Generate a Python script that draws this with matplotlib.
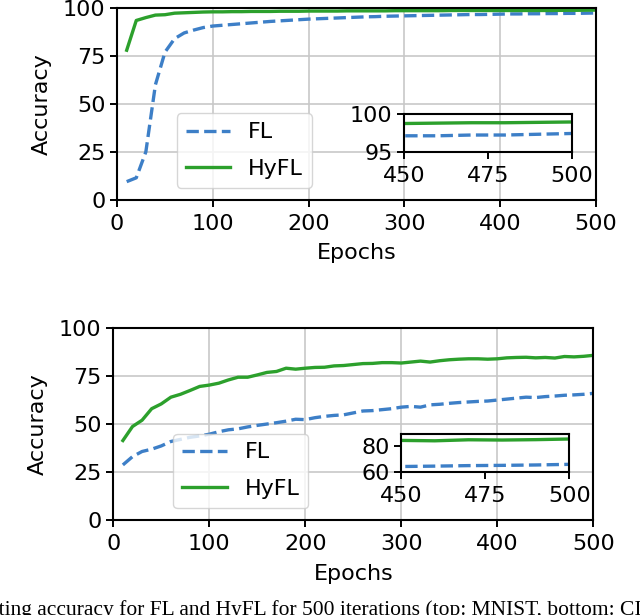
import matplotlib
matplotlib.use("Agg")
import matplotlib.pyplot as plt
import numpy as np

# Epochs (every 10)
epochs = list(range(10, 510, 10))

# top chart
fl_top = [9.5, 11.5, 25, 60, 77, 84, 87, 88.5, 89.8, 90.6,
          91.0, 91.4, 91.8, 92.2, 92.6, 93.0, 93.3, 93.6, 93.9, 94.2,
          94.4, 94.6, 94.8, 95.0, 95.2, 95.4, 95.5, 95.7, 95.8, 95.9,
          96.0, 96.1, 96.2, 96.3, 96.4, 96.5, 96.6, 96.6, 96.7, 96.8,
          96.9, 96.9, 97.0, 97.0, 97.1, 97.1, 97.2, 97.2, 97.3, 97.4]
hyfl_top = [78, 93.5, 95.0, 96.3, 96.5, 97.3, 97.5, 97.7, 97.9, 98.0,
            98.0, 98.1, 98.1, 98.2, 98.2, 98.2, 98.3, 98.3, 98.3, 98.4,
            98.4, 98.4, 98.4, 98.5, 98.5, 98.5, 98.5, 98.5, 98.6, 98.6,
            98.6, 98.6, 98.6, 98.6, 98.7, 98.7, 98.7, 98.7, 98.7, 98.7,
            98.7, 98.7, 98.7, 98.7, 98.7, 98.75, 98.8, 98.8, 98.85, 98.9]

# bottom chart
fl_bot = [28.7, 33.0, 35.7, 36.9, 38.6, 40.9, 42.0, 43.1, 43.8, 44.7,
          46.0, 47.0, 47.5, 48.5, 49.3, 50.0, 50.7, 51.5, 52.5, 52.3,
          53.3, 54.0, 54.5, 54.8, 55.8, 56.8, 57.0, 57.5, 58.0, 58.8,
          59.2, 58.8, 60.0, 60.3, 60.8, 61.2, 61.5, 61.8, 62.0, 62.5,
          63.0, 63.5, 64.0, 63.8, 64.3, 64.6, 65.0, 65.2, 65.5, 66.0]
hyfl_bot = [41.4, 48.7, 52.0, 58.0, 60.5, 64.0, 65.5, 67.5, 69.6, 70.3,
            71.3, 73.0, 74.4, 74.4, 75.6, 76.9, 77.4, 79.1, 78.6, 79.1,
            79.5, 79.6, 80.3, 80.5, 81.0, 81.5, 81.6, 82.0, 82.0, 81.8,
            82.3, 82.8, 82.3, 83.0, 83.5, 83.8, 84.0, 84.0, 83.8, 84.0,
            84.5, 84.7, 84.8, 84.5, 84.7, 84.4, 85.2, 85.0, 85.3, 85.8]

inset_ylims = [(95, 100), (60, 90)]
inset_yticks = [[95, 100], [60, 80]]

c_fl = '#3d7fc7'
c_hyfl = '#2ca02c'
fs = 16

fig = plt.figure(figsize=(6.4, 6.15), dpi=100)
ax_top = fig.add_axes([0.183, 0.675, 0.748, 0.312])
ax_bot = fig.add_axes([0.177, 0.1545, 0.750, 0.312])

panels = [(ax_top, fl_top, hyfl_top), (ax_bot, fl_bot, hyfl_bot)]
for i, (ax, fl, hyfl) in enumerate(panels):
    ax.plot(epochs, fl, '--', color=c_fl, lw=2.4, label='FL')
    ax.plot(epochs, hyfl, '-', color=c_hyfl, lw=2.4, label='HyFL')
    ax.set_xlim(0, 500)
    ax.set_ylim(0, 100)
    ax.set_xticks([0, 100, 200, 300, 400, 500])
    ax.set_yticks([0, 25, 50, 75, 100])
    ax.grid(True, color='#c8c8c8', lw=1.2)
    ax.set_axisbelow(True)
    ax.tick_params(labelsize=fs, width=1.4, length=5)
    ax.tick_params(axis='x', pad=5)
    for s in ax.spines.values():
        s.set_linewidth(1.5)
    ax.set_xlabel('Epochs', fontsize=fs, labelpad=7)
    ax.set_ylabel('Accuracy', fontsize=fs, labelpad=8)
    ax.legend(loc='lower left', bbox_to_anchor=(0.125, 0.0625), borderaxespad=0,
              fontsize=fs, handlelength=2.0, labelspacing=0.75)

    ins = ax.inset_axes([0.6, 0.25, 0.35, 0.2])
    ins.patch.set_alpha(0)
    ins.plot(epochs, fl, '--', color=c_fl, lw=2.4)
    ins.plot(epochs, hyfl, '-', color=c_hyfl, lw=2.4)
    ins.set_xlim(450, 500)
    ins.set_ylim(*inset_ylims[i])
    ins.set_xticks([450, 475, 500])
    ins.set_yticks(inset_yticks[i])
    ins.tick_params(labelsize=fs, width=1.4, length=5)
    ins.tick_params(axis='x', pad=5)
    for s in ins.spines.values():
        s.set_linewidth(1.5)

fig.text(-0.048, 0.0,
         'Testing accuracy for FL and HyFL for 500 iterations (top: MNIST, bottom: CIFAR-10).',
         fontsize=15.5, family='Liberation Serif', va='baseline', ha='left')

fig.savefig('out.png', dpi=100)
